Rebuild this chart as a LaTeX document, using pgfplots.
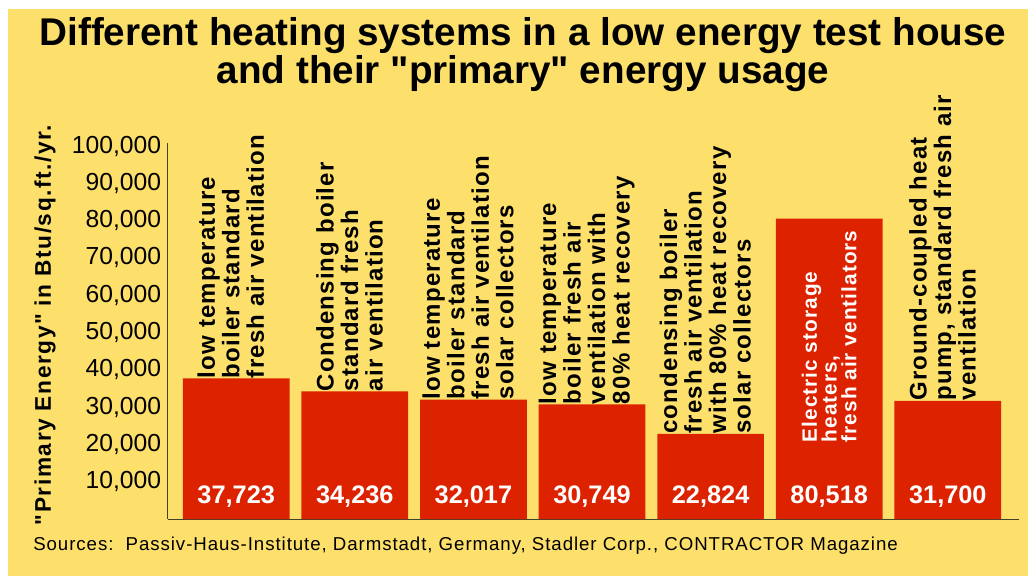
\documentclass[border=0pt]{standalone}
\usepackage{fontspec}
\setmainfont{Liberation Sans}
\newfontfamily\titlefont{Liberation Sans}
\newfontfamily\catfont[LetterSpace=5]{Liberation Sans}
\newfontfamily\ylfont[LetterSpace=7]{Liberation Sans}
\newfontfamily\srcfont[LetterSpace=5]{Liberation Sans}
\usepackage{pgfplots}
\pgfplotsset{compat=1.18}
\definecolor{bgyellow}{RGB}{253,224,108}
\definecolor{barred}{RGB}{221,34,0}
\definecolor{axisgrey}{RGB}{70,66,40}
\tikzset{catlab/.style={rotate=90, anchor=west, align=left, inner sep=0pt, yshift=4pt, font=\catfont\fontsize{18}{18.4}\selectfont\bfseries}}
\begin{document}
\begin{tikzpicture}
\useasboundingbox (-126pt,-42.75pt) rectangle (645pt,389.25pt);
\fill[white] (-126pt,-42.75pt) rectangle (645pt,389.25pt);
\fill[bgyellow] (-120pt,-42.75pt) rectangle (645pt,382.5pt);
\node[anchor=base, inner sep=0pt, font=\titlefont\fontsize{29}{30}\selectfont\bfseries] at (266.25pt,355pt) {Different heating systems in a low energy test house};
\node[anchor=base, inner sep=0pt, font=\titlefont\fontsize{29}{30}\selectfont\bfseries] at (266.25pt,326.5pt) {and their "primary" energy usage};
\node[anchor=base west, font=\srcfont\fontsize{14}{16}\selectfont, inner sep=0pt] at (-101.25pt,-23.25pt) {Sources:\ \ Passiv-Haus-Institute, Darmstadt, Germany, Stadler Corp., CONTRACTOR Magazine};
\node[rotate=90, font=\ylfont\fontsize{17}{19}\selectfont\bfseries, inner sep=0pt] at (-92.25pt,145.5pt) {"Primary Energy" in Btu/sq.ft./yr.};
\begin{axis}[
  at={(0,0)}, anchor=south west,
  scale only axis,
  width=638.25pt, height=282pt,
  xmin=-0.575, xmax=6.60,
  ymin=0, ymax=100800,
  axis lines*=left,
  axis line style={-, draw=axisgrey, line width=0.75pt},
  xtick=\empty,
  ytick={10000,20000,30000,40000,50000,60000,70000,80000,90000,100000},
  yticklabels={10{,}000,20{,}000,30{,}000,40{,}000,50{,}000,60{,}000,70{,}000,80{,}000,90{,}000,100{,}000},
  scaled y ticks=false,
  major tick length=0pt,
  yticklabel style={font=\fontsize{18.5}{20}\selectfont, anchor=east, inner sep=0pt, xshift=-5pt},
  ybar, bar width=0.9, bar shift=0pt,
  clip=false,
]
\addplot[fill=barred, draw=none] coordinates {
  (0,37723) (1,34236) (2,32017) (3,30749) (4,22824) (5,80518) (6,31700)
};
% value labels
\foreach \xx/\vv in {0/37{,}723, 1/34{,}236, 2/32{,}017, 3/30{,}749, 4/22{,}824, 5/80{,}518, 6/31{,}700}{
  \edef\tmp{\noexpand\node[text=white, font=\noexpand\fontsize{19}{21}\noexpand\selectfont\noexpand\bfseries, inner sep=0pt] at (axis cs:\xx,0) [yshift=16.5pt] {\vv};}
  \tmp
}
\node[catlab] at (axis cs:0,37723) {low temperature\\boiler standard\\fresh air ventilation};
\node[catlab] at (axis cs:1,34236) {Condensing boiler\\standard fresh\\air ventilation};
\node[catlab] at (axis cs:2,32017) {low temperature\\boiler standard\\fresh air ventilation\\solar collectors};
\node[catlab] at (axis cs:3,30749) {low temperature\\boiler fresh air\\ventilation with\\80\% heat recovery};
\node[catlab] at (axis cs:4,22824) {condensing boiler\\fresh air ventilation\\with 80\% heat recovery\\solar collectors};
\node[catlab, text=white, yshift=-4pt, font=\catfont\fontsize{15.6}{14.8}\selectfont\bfseries] at (axis cs:5,20500) {Electric storage\\heaters,\\fresh air ventilators};
\node[catlab] at (axis cs:6,31700) {Ground-coupled heat\\pump, standard fresh air\\ventilation};
\end{axis}
\end{tikzpicture}
\end{document}
